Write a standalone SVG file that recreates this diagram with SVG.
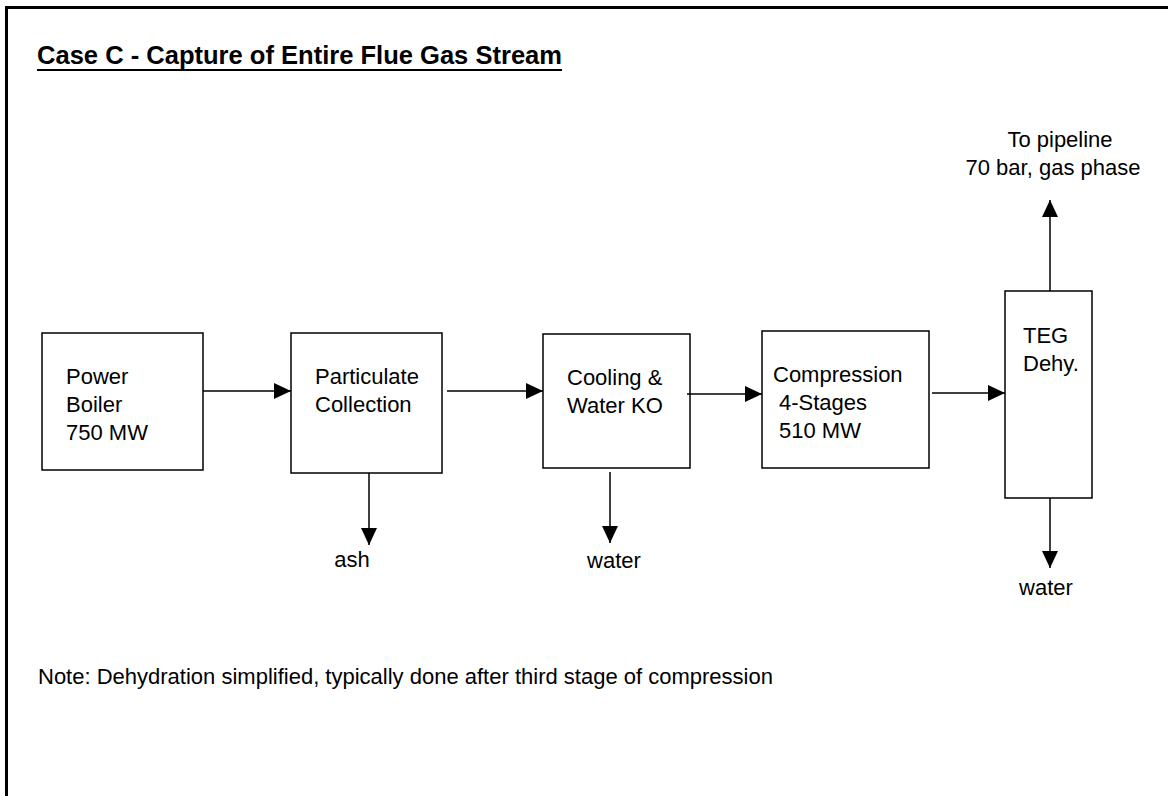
<svg xmlns="http://www.w3.org/2000/svg" width="1168" height="796" viewBox="0 0 1168 796">
  <style>
    text { font-family: "Liberation Sans", Arial, sans-serif; font-size: 22px; fill: #000; }
    .title { font-weight: bold; font-size: 26px; }
    .box { fill: #fff; stroke: #000; stroke-width: 1.5; }
    .flow { stroke: #000; stroke-width: 1.5; fill: none; marker-end: url(#arrow); }
    .mid { text-anchor: middle; }
  </style>
  <defs>
    <marker id="arrow" markerUnits="userSpaceOnUse" markerWidth="18" markerHeight="17" refX="17" refY="8" orient="auto">
      <path d="M0,0 L17,8 L0,16 Z" fill="#000"/>
    </marker>
  </defs>

  <rect width="1168" height="796" fill="#fff"/>

  <!-- page frame (left and top edges) -->
  <path d="M6.5,796 V7.5 H1168" fill="none" stroke="#000" stroke-width="3"/>

  <!-- heading -->
  <g id="heading">
    <text class="title" x="37" y="64" textLength="525" lengthAdjust="spacingAndGlyphs">Case C - Capture of Entire Flue Gas Stream</text>
    <line x1="37" y1="70" x2="562" y2="70" stroke="#000" stroke-width="2.2"/>
  </g>

  <!-- process units -->
  <g id="boiler">
    <rect class="box" x="42" y="333" width="161" height="137"/>
    <text x="66" y="384">Power</text>
    <text x="66" y="412">Boiler</text>
    <text x="66" y="440">750 MW</text>
  </g>

  <g id="particulate">
    <rect class="box" x="291" y="333" width="151" height="140"/>
    <text x="315" y="384">Particulate</text>
    <text x="315" y="412">Collection</text>
  </g>

  <g id="cooling">
    <rect class="box" x="543" y="334" width="147" height="134"/>
    <text x="567" y="385">Cooling &amp;</text>
    <text x="567" y="413">Water KO</text>
  </g>

  <g id="compression">
    <rect class="box" x="762" y="331" width="167" height="137"/>
    <text x="773" y="382">Compression</text>
    <text x="779" y="410">4-Stages</text>
    <text x="779" y="438">510 MW</text>
  </g>

  <g id="teg">
    <rect class="box" x="1005" y="291" width="87" height="207"/>
    <text x="1023" y="343">TEG</text>
    <text x="1023" y="371">Dehy.</text>
  </g>

  <!-- stream connectors -->
  <g id="connectors">
    <line class="flow" x1="203" y1="391" x2="291" y2="391"/>
    <line class="flow" x1="447" y1="391" x2="543" y2="391"/>
    <line class="flow" x1="687" y1="394" x2="762" y2="394"/>
    <line class="flow" x1="932" y1="393" x2="1005" y2="393"/>
    <line class="flow" x1="1050" y1="291" x2="1050" y2="200"/>
    <line class="flow" x1="1050" y1="498" x2="1050" y2="568"/>
    <line class="flow" x1="369" y1="473" x2="369" y2="545"/>
    <line class="flow" x1="610" y1="472" x2="610" y2="543"/>
  </g>

  <!-- stream labels -->
  <g id="labels">
    <text class="mid" x="1060" y="147">To pipeline</text>
    <text class="mid" x="1053" y="175">70 bar, gas phase</text>
    <text class="mid" x="352" y="567">ash</text>
    <text class="mid" x="614" y="568">water</text>
    <text class="mid" x="1046" y="595">water</text>
  </g>

  <g id="note">
    <text x="38" y="684">Note: Dehydration simplified, typically done after third stage of compression</text>
  </g>
</svg>
